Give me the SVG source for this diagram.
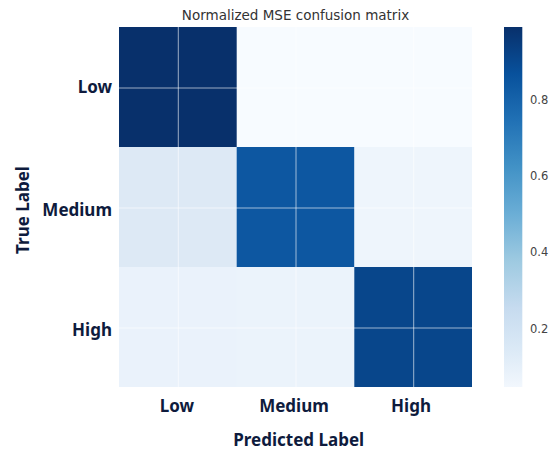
<svg xmlns="http://www.w3.org/2000/svg" width="552" height="451" viewBox="0 0 552 451">
<defs>
<linearGradient id="blues" x1="0" y1="1" x2="0" y2="0">
<stop offset="0" stop-color="#f2f7fd"/>
<stop offset="0.09" stop-color="#deebf7"/>
<stop offset="0.22" stop-color="#c6dbef"/>
<stop offset="0.35" stop-color="#9ecae1"/>
<stop offset="0.48" stop-color="#6baed6"/>
<stop offset="0.61" stop-color="#4292c6"/>
<stop offset="0.74" stop-color="#2171b5"/>
<stop offset="0.87" stop-color="#08519c"/>
<stop offset="1" stop-color="#08306b"/>
</linearGradient>
<style>
.title{font-family:"DejaVu Sans",sans-serif;font-size:13.5px;fill:#333;}
.tick{font-family:"DejaVu Sans",sans-serif;font-size:11.5px;fill:#444;}
.lab{font-family:"Noto Sans","Open Sans",sans-serif;font-size:17px;font-weight:bold;fill:#0e1b3d;}
.grid line{stroke:#ffffff;stroke-opacity:0.6;stroke-width:1;}
</style>
</defs>
<rect width="552" height="451" fill="#ffffff"/>
<text class="title" x="295.5" y="20" text-anchor="middle">Normalized MSE confusion matrix</text>
<g id="matrix">
<g id="cell-low-low"><rect x="119" y="27" width="118" height="120" fill="#08306b"/></g>
<g id="cell-low-medium"><rect x="236.7" y="27" width="118" height="120" fill="#f7fbff"/></g>
<g id="cell-low-high"><rect x="354.3" y="27" width="117.7" height="120" fill="#f7fbff"/></g>
<g id="cell-medium-low"><rect x="119" y="147" width="118" height="120" fill="#dde9f5"/></g>
<g id="cell-medium-medium"><rect x="236.7" y="147" width="118" height="120" fill="#0d57a1"/></g>
<g id="cell-medium-high"><rect x="354.3" y="147" width="117.7" height="120" fill="#eef5fc"/></g>
<g id="cell-high-low"><rect x="119" y="267" width="118" height="120" fill="#eaf2fb"/></g>
<g id="cell-high-medium"><rect x="236.7" y="267" width="118" height="120" fill="#ebf3fb"/></g>
<g id="cell-high-high"><rect x="354.3" y="267" width="117.7" height="120" fill="#08468b"/></g>
</g>
<g id="connectors" class="grid">
<line x1="178.3" y1="27" x2="178.3" y2="387"/>
<line x1="296" y1="27" x2="296" y2="387"/>
<line x1="413.7" y1="27" x2="413.7" y2="387"/>
<line x1="119" y1="88" x2="472" y2="88"/>
<line x1="119" y1="208" x2="472" y2="208"/>
<line x1="119" y1="328" x2="472" y2="328"/>
</g>
<g id="y-ticks">
<text class="lab" x="112" y="93" text-anchor="end">Low</text>
<text class="lab" x="112" y="216" text-anchor="end">Medium</text>
<text class="lab" x="112" y="336" text-anchor="end">High</text>
</g>
<g id="x-ticks">
<text class="lab" x="177" y="412" text-anchor="middle">Low</text>
<text class="lab" x="294" y="412" text-anchor="middle">Medium</text>
<text class="lab" x="411" y="412" text-anchor="middle">High</text>
</g>
<text class="lab" x="298.7" y="446" text-anchor="middle">Predicted Label</text>
<text class="lab" transform="translate(29,210) rotate(-90)" text-anchor="middle">True Label</text>
<g id="colorbar">
<rect x="504" y="27" width="18.3" height="360" fill="url(#blues)"/>
<text class="tick" x="530" y="104">0.8</text>
<text class="tick" x="530" y="180">0.6</text>
<text class="tick" x="530" y="256">0.4</text>
<text class="tick" x="530" y="333">0.2</text>
</g>
</svg>
